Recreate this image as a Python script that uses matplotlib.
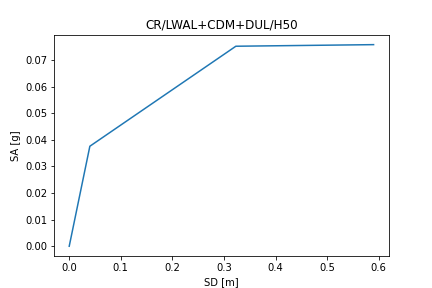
import matplotlib
matplotlib.use("Agg")
import matplotlib.pyplot as plt

sd = [0.0, 0.040, 0.323, 0.590]
sa = [0.0, 0.0376, 0.0752, 0.0758]

plt.figure(figsize=(6, 4), dpi=72)
plt.plot(sd, sa)
plt.title("CR/LWAL+CDM+DUL/H50")
plt.xlabel("SD [m]")
plt.ylabel("SA [g]")
plt.savefig("out.png", dpi=72)
